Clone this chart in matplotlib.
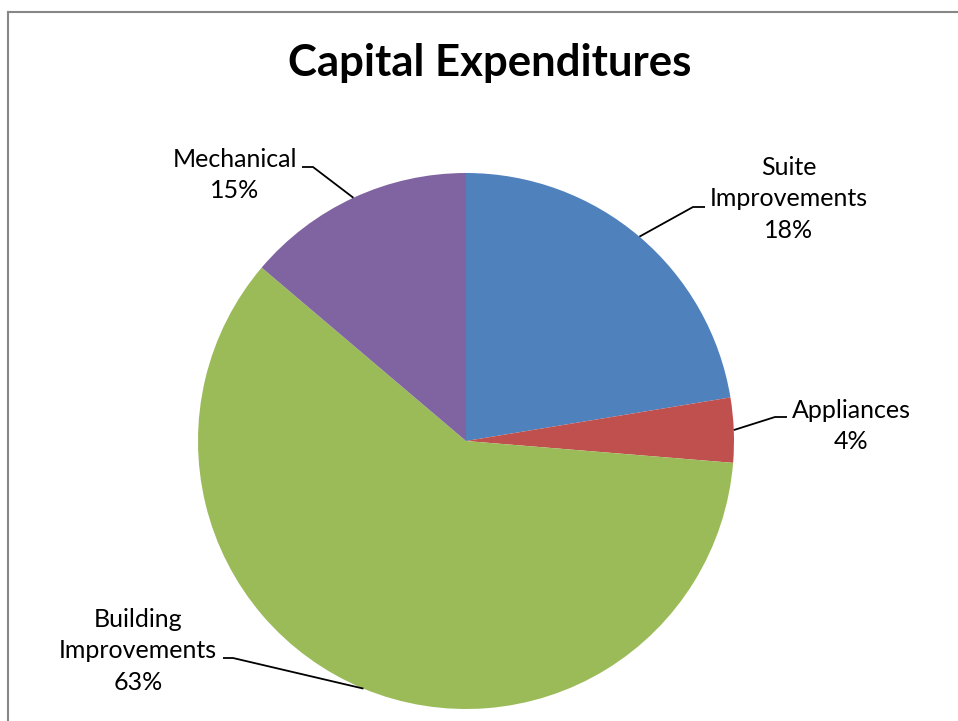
import numpy as np
import matplotlib.pyplot as plt
from matplotlib.lines import Line2D

categories = ["Suite\nImprovements", "Appliances", "Building\nImprovements", "Mechanical"]
shares = [22.4, 3.9, 59.9, 13.8]
pct_labels = ["18%", "4%", "63%", "15%"]
colors = ["#4F81BD", "#C0504D", "#9BBB59", "#8064A2"]

W, H = 958, 721
cx, cy, R = 466, 441, 268

# label layout in pixels: text centre, knee, end of horizontal tick
label_pos = [(789, 199), (851, 426), (138, 651), (235, 175)]
knees = [(693, 207), (775, 417), (233, 658), (313, 167)]
ends = [(705, 207), (787, 417), (223, 658), (302, 167)]

plt.rcParams["font.family"] = ["Lato", "DejaVu Sans"]

fig = plt.figure(figsize=(W / 100, H / 100), dpi=100)
ax = fig.add_axes([(cx - R) / W, (H - cy - R) / H, 2 * R / W, 2 * R / H])

wedges, _ = ax.pie(
    shares,
    colors=colors,
    startangle=90,
    counterclock=False,
    radius=1,
)
ax.set_xlim(-1, 1)
ax.set_ylim(-1, 1)
ax.set_aspect("equal")
ax.axis("off")


def to_data(p):
    return ((p[0] - cx) / R, (cy - p[1]) / R)


for w, cat, pct, tp, kn, en in zip(wedges, categories, pct_labels, label_pos, knees, ends):
    mid = np.deg2rad((w.theta1 + w.theta2) / 2)
    anchor = (np.cos(mid), np.sin(mid))
    k = to_data(kn)
    e = to_data(en)
    ax.plot([anchor[0], k[0], e[0]], [anchor[1], k[1], e[1]],
            color="black", lw=1.3, clip_on=False, solid_capstyle="butt")
    t = to_data(tp)
    ax.text(t[0], t[1], cat + "\n" + pct, ha="center", va="center",
            fontsize=18, linespacing=1.45, color="black")

fig.text(490 / W, 1 - 63 / H, "Capital Expenditures", ha="center", va="center",
         fontsize=31.5, fontweight="bold")

# chart area frame (only top and left edges are visible)
bx, by = 8 / W, 1 - 11.5 / H
fig.add_artist(Line2D([bx, bx], [0, by], color="#878787", lw=1.5))
fig.add_artist(Line2D([bx, 1], [by, by], color="#878787", lw=1.5))

fig.savefig("out.png", dpi=100)
